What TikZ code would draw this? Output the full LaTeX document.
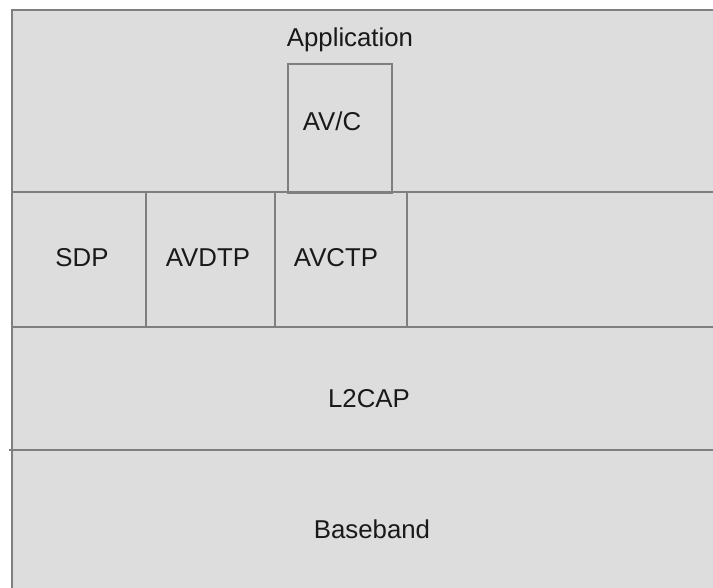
\documentclass[tikz,border=0pt]{standalone}
\usepackage{fontspec}
\setmainfont{Liberation Sans}
\definecolor{layerfill}{HTML}{DDDDDD}
\definecolor{layerline}{HTML}{7F7F7F}
\tikzset{
  lay/.style={draw=layerline, line width=1.6pt},
  lbl/.style={anchor=base, inner sep=0pt, font=\fontsize{25.8pt}{30pt}\selectfont, text=black!90}
}
\begin{document}
\begin{tikzpicture}[x=1pt,y=-1pt]
\useasboundingbox (0,0) rectangle (713,588);
\fill[white] (0,0) rectangle (713,588);
% outer area
\fill[layerfill] (12,10) rectangle (713,588);
\draw[lay] (12,588) -- (12,10) -- (713,10);
% AV/C box
\node[lay, fill=layerfill, minimum width=104pt, minimum height=129pt, inner sep=0pt, anchor=north west] (avcbox) at (287,63) {};
% layer boundaries
\draw[lay] (12,192) -- (713,192);
\draw[lay] (12,327) -- (713,327);
\draw[lay] (9,450) -- (713,450);
% middle row separators
\draw[lay] (146,192) -- (146,327);
\draw[lay] (275,192) -- (275,327);
\draw[lay] (407,192) -- (407,327);
% labels
\node[lbl] (app) at (350,47) {Application};
\node[lbl] (avc) at (332,131) {AV/C};
\node[lbl] (sdp) at (82,267) {SDP};
\node[lbl] (avdtp) at (208,267) {AVDTP};
\node[lbl] (avctp) at (336,267) {AVCTP};
\node[lbl] (l2cap) at (369,407) {L2CAP};
\node[lbl] (bb) at (372,538) {Baseband};
\end{tikzpicture}
\end{document}
